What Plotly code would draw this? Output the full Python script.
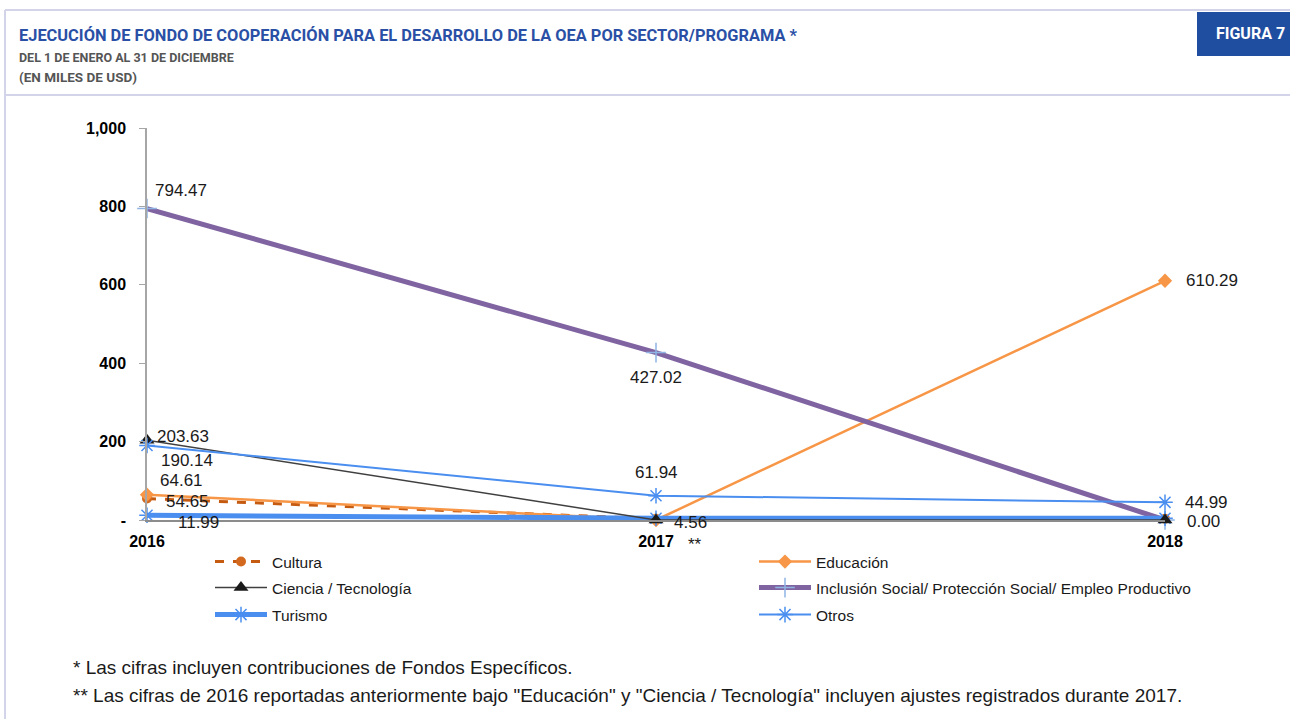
import plotly.graph_objects as go

# ---------------- data ----------------
years = [2016, 2017, 2018]
year_labels = ["2016", "2017", "2018"]

cultura = [54.65, 3.0, 3.0]
educacion = [64.61, 0.0, 610.29]
ciencia = [203.63, 0.0, 0.0]
inclusion = [794.47, 427.02, 0.00]
turismo = [11.99, 4.56, 4.56]
otros = [190.14, 61.94, 44.99]

cultura_txt = ["54.65", "", ""]
educacion_txt = ["64.61", "", "610.29"]
ciencia_txt = ["203.63", "", ""]
inclusion_txt = ["794.47", "427.02", "0.00"]
turismo_txt = ["11.99", "4.56", ""]
otros_txt = ["190.14", "61.94", "44.99"]

y_tickvals = [0, 200, 400, 600, 800, 1000]
y_ticktext = ["-", "200", "400", "600", "800", "1,000"]

# ---------------- layout geometry ----------------
W, H = 1290, 719
L, R, T, B = 147, 1165, 128, 520  # plot area in pixels
PW, PH = R - L, B - T


def px(x):
    return (x - L) / PW


def py(y):
    return (B - y) / PH


SANS = "Liberation Sans, Arial, sans-serif"
LBL = dict(family=SANS, size=17, color="#1a1a1a")

fig = go.Figure()

legend_slots = {}


def add(name, y, txt, offsets, color, width, dash, symbol, msize, mcolor, legend, lpos, mline=None):
    fig.add_trace(go.Scatter(
        x=years, y=y, name=name, mode="lines+markers",
        line=dict(color=color, width=width, dash=dash),
        marker=dict(symbol=symbol, size=msize, color=mcolor,
                    line=mline if mline else dict(width=0)),
        cliponaxis=False, legend=legend,
    ))
    legend_slots[legend] = lpos
    for xv, yv, t, off in zip(years, y, txt, offsets):
        if not t:
            continue
        xa, xs, ys = off
        fig.add_annotation(x=xv, y=yv, xref="x", yref="y", text=t, showarrow=False,
                           xanchor=xa, yanchor="middle", xshift=xs, yshift=ys, font=LBL)


add("Cultura", cultura, cultura_txt, [("left", 17, -3), None, None],
    "#c55a11", 3, "dash", "circle", 10, "#d2691e", "legend", (210, 562))
add("Educación", educacion, educacion_txt, [("left", 11, 14), None, ("left", 19, 0)],
    "#f79646", 2.5, "solid", "diamond", 11, "#f79646", "legend2", (754, 562))
add("Inclusión Social/ Protección Social/ Empleo Productivo", inclusion, inclusion_txt,
    [("left", 6, 18), ("center", 0, -25), ("left", 20, -1)],
    "#8064a2", 5, "solid", "cross-thin", 14, "#8eb4e3", "legend4", (754, 588),
    mline=dict(width=1.5, color="#8eb4e3"))
add("Turismo", turismo, turismo_txt, [("left", 29, -7), ("left", 16, -4), None],
    "#4a8ef0", 5, "solid", "asterisk", 13, "#4a8ef0", "legend5", (210, 615),
    mline=dict(width=1.5, color="#4a8ef0"))
add("Ciencia / Tecnología", ciencia, ciencia_txt, [("left", 8, 4), None, None],
    "#404040", 1.5, "solid", "triangle-up", 13, "#1a1a1a", "legend3", (210, 588))
add("Otros", otros, otros_txt, [("left", 12, -15), ("center", 0, 23), ("left", 18, 0)],
    "#4a8ef0", 2, "solid", "asterisk", 13, "#4a8ef0", "legend6", (754, 615),
    mline=dict(width=1.5, color="#4a8ef0"))

legend_common = dict(
    font=dict(family=SANS, size=15.5, color="#1a1a1a"),
    bgcolor="rgba(0,0,0,0)", orientation="v", yanchor="middle", xanchor="left",
    tracegroupgap=0, itemwidth=52,
)
legends = {k: dict(x=px(v[0]), y=py(v[1]), **legend_common) for k, v in legend_slots.items()}

fig.update_layout(
    width=W, height=H,
    margin=dict(l=L, r=W - R, t=T, b=H - B),
    paper_bgcolor="white", plot_bgcolor="white",
    showlegend=True,
    **legends,
    xaxis=dict(
        range=[2016, 2018], tickvals=years, ticktext=year_labels,
        showgrid=False, zeroline=False, showline=True, linecolor="#8c8c8c", linewidth=1.5,
        tickfont=dict(family=SANS, size=16, color="#000000", weight="bold"),
        ticks="", ticklabelstandoff=6,
    ),
    yaxis=dict(
        range=[0, 1000], tickvals=y_tickvals, ticktext=y_ticktext,
        showgrid=False, zeroline=False, showline=True, linecolor="#a6a6a6", linewidth=1.5,
        ticks="outside", ticklen=6, tickcolor="#a6a6a6",
        tickfont=dict(family=SANS, size=16, color="#000000", weight="bold"),
        ticklabelstandoff=10,
    ),
)

# ---------------- frame & header ----------------
frame = "#d3d3ea"
fig.add_shape(type="line", xref="paper", yref="paper", x0=px(5), x1=px(1290), y0=py(10), y1=py(10),
              line=dict(color=frame, width=2))
fig.add_shape(type="line", xref="paper", yref="paper", x0=px(5), x1=px(5), y0=py(10), y1=py(719),
              line=dict(color=frame, width=2))
fig.add_shape(type="line", xref="paper", yref="paper", x0=px(5), x1=px(1290), y0=py(95), y1=py(95),
              line=dict(color=frame, width=2))
fig.add_shape(type="rect", xref="paper", yref="paper", x0=px(1197), x1=px(1291), y0=py(12), y1=py(56),
              fillcolor="#1f4ea1", line=dict(width=0))

fig.add_annotation(xref="paper", yref="paper", x=px(1250), y=py(34), text="<b>FIGURA 7</b>",
                   showarrow=False, xanchor="center", yanchor="middle",
                   font=dict(family="Roboto, sans-serif", size=16, color="white"))
fig.add_annotation(xref="paper", yref="paper", x=px(17), y=py(35),
                   text="<b>EJECUCIÓN DE FONDO DE COOPERACIÓN PARA EL DESARROLLO DE LA OEA POR SECTOR/PROGRAMA *</b>",
                   showarrow=False, xanchor="left", yanchor="middle",
                   font=dict(family="Roboto, sans-serif", size=16.4, color="#2a50a6"))
fig.add_annotation(xref="paper", yref="paper", x=px(17), y=py(57),
                   text="<b>DEL 1 DE ENERO AL 31 DE DICIEMBRE</b>",
                   showarrow=False, xanchor="left", yanchor="middle",
                   font=dict(family="Roboto, sans-serif", size=12.5, color="#555555"))
fig.add_annotation(xref="paper", yref="paper", x=px(17), y=py(77),
                   text="<b>(EN MILES DE USD)</b>",
                   showarrow=False, xanchor="left", yanchor="middle",
                   font=dict(family="Roboto, sans-serif", size=13.5, color="#555555"))

# "**" next to 2017
fig.add_annotation(xref="paper", yref="paper", x=px(686), y=py(544), text="**",
                   showarrow=False, xanchor="left", yanchor="middle",
                   font=dict(family=SANS, size=17, color="#1a1a1a"))

# footnotes
foot = dict(family=SANS, size=19, color="#1a1a1a")
fig.add_annotation(xref="paper", yref="paper", x=px(71), y=py(667),
                   text="* Las cifras incluyen contribuciones de Fondos Específicos.",
                   showarrow=False, xanchor="left", yanchor="middle", font=foot)
fig.add_annotation(xref="paper", yref="paper", x=px(71), y=py(695),
                   text="** Las cifras de 2016 reportadas anteriormente bajo \"Educación\" y \"Ciencia / Tecnología\" incluyen ajustes registrados durante 2017.",
                   showarrow=False, xanchor="left", yanchor="middle", font=foot)

fig.write_html("out.html", config={"displayModeBar": False},
               post_script="document.body.style.margin='0';")
